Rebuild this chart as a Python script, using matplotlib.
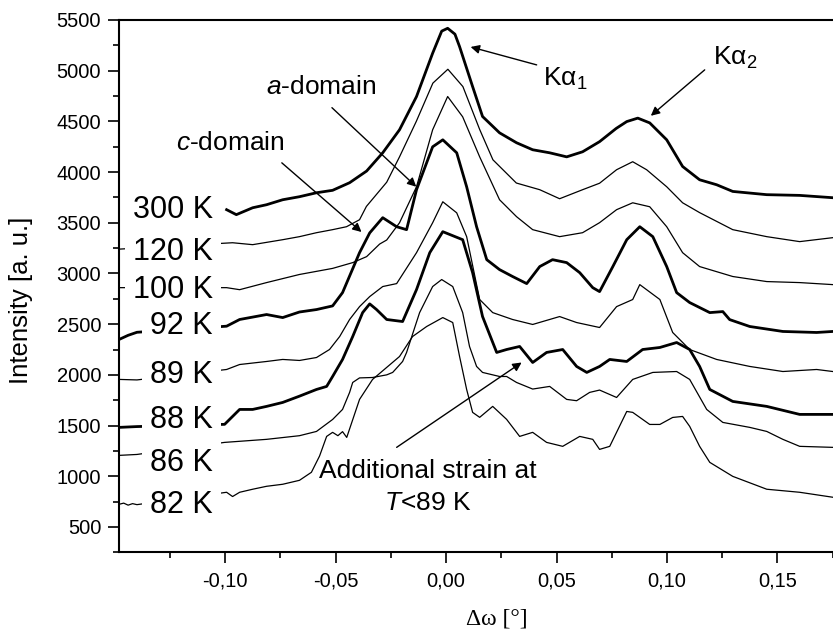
import matplotlib
matplotlib.use("Agg")
import matplotlib.pyplot as plt
from matplotlib.ticker import MultipleLocator, FuncFormatter

plt.rcParams['font.family'] = ['Liberation Sans', 'DejaVu Sans']
plt.rcParams['mathtext.fontset'] = 'custom'
plt.rcParams['mathtext.rm'] = 'Liberation Sans'
plt.rcParams['mathtext.it'] = 'Liberation Sans:italic'
plt.rcParams['mathtext.bf'] = 'Liberation Sans:bold'

# ---------------- data ----------------
x_300 = [-0.0994, -0.0950, -0.0876, -0.0813, -0.0740, -0.0664, -0.0587, -0.0514, -0.0437, -0.0360,
         -0.0287, -0.0211, -0.0134, -0.0061, -0.0020, 0.0007, 0.0040, 0.0061, 0.0120, 0.0165,
         0.0242, 0.0319, 0.0392, 0.0469, 0.0546, 0.0618, 0.0695, 0.0770, 0.0818, 0.0868,
         0.0922, 0.0999, 0.1071, 0.1148, 0.1225, 0.1298, 0.1452, 0.1601, 0.1751]
y_300 = [3629, 3580, 3648, 3678, 3727, 3757, 3796, 3820, 3895, 4010,
         4190, 4417, 4745, 5172, 5390, 5418, 5360, 5237, 4843, 4548,
         4387, 4289, 4220, 4190, 4150, 4200, 4300, 4430, 4498, 4532,
         4485, 4318, 4055, 3924, 3875, 3809, 3777, 3770, 3747]

x_120 = [-0.148, -0.140, -0.0967, -0.0876, -0.0740, -0.0664, -0.0587, -0.0514, -0.0451, -0.0392,
         -0.0361, -0.0269, -0.0211, -0.0135, -0.0060, 0.0008, 0.0076, 0.0152, 0.0212, 0.0318,
         0.0424, 0.0514, 0.0618, 0.0695, 0.0772, 0.0845, 0.0908, 0.0999, 0.1071, 0.1148,
         0.1298, 0.1452, 0.1601, 0.1751]
y_120 = [3240, 3250, 3303, 3284, 3333, 3363, 3402, 3432, 3461, 3530,
         3661, 3900, 4150, 4500, 4877, 5014, 4843, 4420, 4121, 3892,
         3826, 3737, 3826, 3890, 4023, 4102, 4023, 3855, 3697, 3600,
         3432, 3363, 3314, 3353]

x_100 = [-0.148, -0.140, -0.0994, -0.0935, -0.0813, -0.0664, -0.0514, -0.0423, -0.0360, -0.0301,
         -0.0269, -0.0211, -0.0134, -0.0061, 0.0007, 0.0075, 0.0152, 0.0242, 0.0319, 0.0392,
         0.0514, 0.0618, 0.0695, 0.0772, 0.0845, 0.0922, 0.0999, 0.1071, 0.1148, 0.1298,
         0.1452, 0.1601, 0.1751]
y_100 = [2860, 2860, 2860, 2840, 2910, 2990, 3050, 3107, 3166, 3290,
         3330, 3500, 3855, 4417, 4745, 4545, 4150, 3727, 3560, 3432,
         3363, 3402, 3501, 3629, 3697, 3658, 3461, 3205, 3068, 2970,
         2920, 2910, 2890]

x_92 = [-0.148, -0.144, -0.140, -0.0994, -0.0935, -0.0813, -0.0740, -0.0664, -0.0587, -0.0514,
        -0.0469, -0.0392, -0.0346, -0.0287, -0.0224, -0.0179, -0.0134, -0.0061, -0.0015, 0.0048,
        0.0093, 0.0138, 0.0184, 0.0242, 0.0301, 0.0365, 0.0424, 0.0482, 0.0546, 0.0605,
        0.0664, 0.0695, 0.0755, 0.0818, 0.0877, 0.0936, 0.0999, 0.1044, 0.1103, 0.1194,
        0.1253, 0.1284, 0.1375, 0.1525, 0.1678, 0.1751]
y_92 = [2350, 2390, 2420, 2480, 2546, 2595, 2565, 2620, 2644, 2680,
        2811, 3205, 3400, 3550, 3461, 3432, 3826, 4249, 4318, 4190,
        3855, 3461, 3136, 3038, 2970, 2900, 3068, 3136, 3107, 3008,
        2860, 2821, 3068, 3333, 3461, 3363, 3068, 2811, 2713, 2614,
        2624, 2545, 2477, 2428, 2418, 2428]

x_89 = [-0.148, -0.140, -0.0994, -0.0935, -0.0813, -0.0740, -0.0664, -0.0587, -0.0528, -0.0482,
        -0.0437, -0.0392, -0.0346, -0.0287, -0.0224, -0.0134, -0.0061, -0.0015, 0.0048, 0.0093,
        0.0152, 0.0211, 0.0301, 0.0392, 0.0514, 0.0591, 0.0695, 0.0772, 0.0845, 0.0877,
        0.0968, 0.1026, 0.1103, 0.1225, 0.1375, 0.1525, 0.1678, 0.1751]
y_89 = [1955, 1950, 2053, 2102, 2132, 2152, 2142, 2171, 2250, 2378,
        2546, 2673, 2772, 2871, 2900, 3205, 3500, 3707, 3598, 3363,
        2743, 2614, 2546, 2497, 2575, 2516, 2467, 2673, 2743, 2890,
        2743, 2418, 2250, 2152, 2083, 2033, 2053, 2033]

x_88 = [-0.148, -0.140, -0.1003, -0.0935, -0.0876, -0.0813, -0.0740, -0.0664, -0.0587, -0.0541,
        -0.0514, -0.0469, -0.0423, -0.0378, -0.0346, -0.0315, -0.0269, -0.0197, -0.0134, -0.0074,
        -0.0015, 0.0075, 0.0120, 0.0165, 0.0229, 0.0274, 0.0333, 0.0392, 0.0455, 0.0528,
        0.0591, 0.0637, 0.0695, 0.0741, 0.0818, 0.0890, 0.0968, 0.1044, 0.1103, 0.1148,
        0.1194, 0.1298, 0.1452, 0.1601, 0.1751]
y_88 = [1482, 1490, 1512, 1659, 1659, 1689, 1728, 1790, 1856, 1886,
        1984, 2152, 2378, 2614, 2700, 2644, 2546, 2526, 2841, 3205,
        3412, 3333, 3008, 2575, 2221, 2250, 2280, 2122, 2221, 2250,
        2083, 2024, 2083, 2152, 2132, 2250, 2270, 2319, 2250, 2083,
        1856, 1738, 1689, 1610, 1610]

x_86 = [-0.148, -0.140, -0.1003, -0.0813, -0.0664, -0.0587, -0.0514, -0.0469, -0.0437, -0.0423,
        -0.0392, -0.0333, -0.0269, -0.0242, -0.0197, -0.0179, -0.0120, -0.0061, -0.0020, 0.0030,
        0.0075, 0.0106, 0.0138, 0.0165, 0.0242, 0.0274, 0.0319, 0.0392, 0.0469, 0.0546,
        0.0591, 0.0650, 0.0695, 0.0772, 0.0845, 0.0936, 0.1044, 0.1103, 0.1180, 0.1253,
        0.1375, 0.1452, 0.1525, 0.1601, 0.1751]
y_86 = [1206, 1215, 1334, 1364, 1400, 1442, 1560, 1659, 1827, 1925,
        1970, 1974, 2000, 2024, 2132, 2221, 2614, 2871, 2940, 2871,
        2614, 2280, 2083, 2024, 1984, 1984, 1925, 1860, 1886, 1758,
        1745, 1827, 1850, 1777, 1955, 2024, 2033, 1955, 1659, 1531,
        1482, 1442, 1364, 1295, 1285]

x_82 = [-0.148, -0.146, -0.144, -0.142, -0.140, -0.0994, -0.0967, -0.0935, -0.0876, -0.0813,
        -0.0740, -0.0664, -0.0610, -0.0573, -0.0541, -0.0514, -0.0490, -0.0469, -0.0450, -0.0392,
        -0.0333, -0.0211, -0.0152, -0.0088, -0.0015, 0.0030, 0.0061, 0.0093, 0.0120, 0.0152,
        0.0211, 0.0274, 0.0333, 0.0392, 0.0455, 0.0528, 0.0605, 0.0664, 0.0695, 0.0741,
        0.0818, 0.0845, 0.0922, 0.0968, 0.1026, 0.1071, 0.1103, 0.1148, 0.1194, 0.1298,
        0.1452, 0.1601, 0.1751]
y_82 = [724, 735, 715, 730, 720, 842, 800, 842, 872, 901,
        921, 960, 1039, 1200, 1393, 1433, 1400, 1440, 1383, 1758,
        1955, 2181, 2378, 2477, 2565, 2516, 2181, 1856, 1630, 1581,
        1689, 1561, 1393, 1433, 1334, 1295, 1393, 1364, 1265, 1295,
        1639, 1630, 1511, 1511, 1580, 1590, 1492, 1295, 1137, 999,
        872, 842, 793]

curve_labels = ['300 K', '120 K', '100 K', '92 K', '89 K', '88 K', '86 K', '82 K']
label_y = [3629, 3215, 2841, 2480, 1994, 1554, 1127, 714]
thick = [True, False, False, True, False, True, False, False]

xs = [x_300, x_120, x_100, x_92, x_89, x_88, x_86, x_82]
ys = [y_300, y_120, y_100, y_92, y_89, y_88, y_86, y_82]

# ---------------- figure ----------------
fig = plt.figure(figsize=(8.33, 6.36), dpi=100)
ax = fig.add_axes([0.1432, 0.1316, 1.0 - 0.1432, 0.9686 - 0.1316])

for x, y, th in zip(xs, ys, thick):
    ax.plot(x, y, color='black', lw=2.0 if th else 0.9, zorder=2,
            solid_joinstyle='round')

for lab, ly in zip(curve_labels, label_y):
    ax.text(-0.1056, ly, lab, ha='right', va='center', fontsize=22, zorder=5,
            bbox=dict(facecolor='white', edgecolor='none', pad=6))

ax.set_xlim(-0.148, 0.1752)
ax.set_ylim(250, 5500)

ax.xaxis.set_major_locator(MultipleLocator(0.05))
ax.xaxis.set_minor_locator(MultipleLocator(0.025))
ax.yaxis.set_major_locator(MultipleLocator(500))
ax.yaxis.set_minor_locator(MultipleLocator(250))
ax.xaxis.set_major_formatter(FuncFormatter(lambda v, p: f'{v:.2f}'.replace('.', ',')))
ax.yaxis.set_major_formatter(FuncFormatter(lambda v, p: f'{v:.0f}'))

ax.tick_params(which='major', direction='out', length=8, width=1.2, labelsize=14.5, pad=5)
ax.tick_params(which='minor', direction='out', length=4.3, width=1.2)
ax.tick_params(axis='x', which='major', pad=6)

for s in ['left', 'bottom', 'top']:
    ax.spines[s].set_linewidth(1.5)
ax.spines['right'].set_visible(False)

ax.set_ylabel('Intensity [a. u.]', fontsize=18.5)
ax.yaxis.set_label_coords(-0.121, 0.474)
ax.set_xlabel('Δω [°]', fontsize=17, family=['Liberation Serif', 'DejaVu Serif'])
ax.xaxis.set_label_coords(0.529, -0.106)

# ---------------- annotations ----------------
arrow = dict(arrowstyle='-|>', color='black', lw=1.0, mutation_scale=13,
             shrinkA=0, shrinkB=0)
fs = 19
ax.annotate('', xy=(0.0111, 5234), xytext=(0.0410, 5057), arrowprops=arrow)
ax.text(0.0437, 4850, 'Kα$_1$', fontsize=fs, ha='left', va='baseline')

ax.annotate('', xy=(0.0927, 4555), xytext=(0.1171, 5008), arrowprops=arrow)
ax.text(0.1208, 5057, 'Kα$_2$', fontsize=fs, ha='left', va='baseline')

ax.annotate('', xy=(-0.0135, 3855), xytext=(-0.0517, 4635), arrowprops=arrow)
ax.text(-0.0814, 4771, '$a$-domain', fontsize=fs, ha='left', va='baseline')

ax.annotate('', xy=(-0.0383, 3409), xytext=(-0.0744, 4091), arrowprops=arrow)
ax.text(-0.1221, 4213, '$c$-domain', fontsize=fs, ha='left', va='baseline')

ax.annotate('', xy=(0.0342, 2122), xytext=(-0.0224, 1285), arrowprops=arrow)
ax.text(-0.0084, 980, 'Additional strain at', fontsize=fs, ha='center', va='baseline')
ax.text(-0.0084, 668, '$T$<89 K', fontsize=fs, ha='center', va='baseline')

fig.savefig('out.png', dpi=100)
